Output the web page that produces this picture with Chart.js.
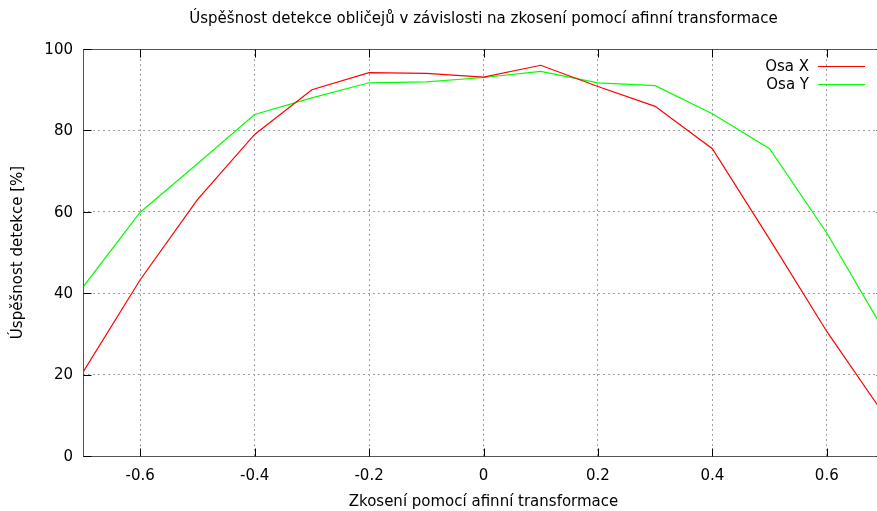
<!DOCTYPE html>
<html>
<head>
<meta charset="utf-8">
<script src="https://cdn.jsdelivr.net/npm/chart.js@4/dist/chart.umd.min.js"></script>
<style>
  html, body { margin: 0; padding: 0; overflow: hidden; background: #fff; }
  canvas { display: block; }
</style>
</head>
<body>
<canvas id="c" width="891" height="511"></canvas>
<script>
// skew values (x axis)
const skew = [-0.7, -0.6, -0.5, -0.4, -0.3, -0.2, -0.1, 0, 0.1, 0.2, 0.3, 0.4, 0.5, 0.6, 0.7];
// detection rate in % for skew along X and along Y
const osaX = [20.6, 43.3, 63, 79, 90, 94.2, 94, 93.1, 96, 90.8, 85.9, 75.5, 53.3, 30.6, 10.2];
const osaY = [41.5, 59.9, 71.8, 83.9, 88, 91.7, 91.9, 93, 94.5, 91.7, 91, 84.1, 75.5, 54.8, 30.8];

const xTicks = [-0.6, -0.4, -0.2, 0, 0.2, 0.4, 0.6];
const yTicks = [0, 20, 40, 60, 80, 100];

Chart.defaults.font.family = 'DejaVu Sans';
Chart.defaults.font.size = 15;
Chart.defaults.color = '#000';

const toPoints = (ys) => skew.map((x, i) => ({ x: x, y: ys[i] }));

// gnuplot-like frame, inward tics and key
const gnuplotFrame = {
  id: 'gnuplotFrame',
  afterDraw(chart) {
    const ctx = chart.ctx;
    const a = chart.chartArea;
    const xs = chart.scales.x, ys = chart.scales.y;
    const L = Math.round(a.left) + 0.5, R = Math.round(a.right) + 0.5;
    const T = Math.round(a.top) + 0.5, B = Math.round(a.bottom) + 0.5;
    ctx.save();
    ctx.setLineDash([]);
    ctx.lineWidth = 1;
    ctx.strokeStyle = '#555';
    ctx.strokeRect(L, T, R - L, B - T);

    ctx.strokeStyle = '#000';
    ctx.beginPath();
    xTicks.forEach(v => {
      const px = Math.round(xs.getPixelForValue(v)) + 0.5;
      ctx.moveTo(px, B); ctx.lineTo(px, B - 8);
      ctx.moveTo(px, T); ctx.lineTo(px, T + 8);
    });
    yTicks.forEach(v => {
      const py = Math.round(ys.getPixelForValue(v)) + 0.5;
      ctx.moveTo(L, py); ctx.lineTo(L + 8, py);
      ctx.moveTo(R, py); ctx.lineTo(R - 8, py);
    });
    ctx.stroke();

    // key
    ctx.font = '15px "DejaVu Sans"';
    ctx.textAlign = 'right';
    ctx.textBaseline = 'middle';
    chart.data.datasets.forEach((ds, i) => {
      const y = 66 + i * 18;
      ctx.fillStyle = '#000';
      ctx.fillText(ds.label, 809, y + 1);
      ctx.strokeStyle = ds.borderColor;
      ctx.beginPath();
      ctx.moveTo(818, y + 0.5);
      ctx.lineTo(865, y + 0.5);
      ctx.stroke();
    });
    ctx.restore();
  }
};

new Chart(document.getElementById('c'), {
  type: 'line',
  data: {
    datasets: [
      {
        label: 'Osa X',
        data: toPoints(osaX),
        borderColor: '#ff0000',
        borderWidth: 1.2,
        pointRadius: 0,
        tension: 0,
        fill: false
      },
      {
        label: 'Osa Y',
        data: toPoints(osaY),
        borderColor: '#00ff00',
        borderWidth: 1.2,
        pointRadius: 0,
        tension: 0,
        fill: false
      }
    ]
  },
  options: {
    responsive: false,
    animation: false,
    layout: { padding: { top: 0, right: 7, left: 0, bottom: 0 } },
    scales: {
      x: {
        type: 'linear',
        min: -0.7,
        max: 0.7,
        afterBuildTicks: (s) => { s.ticks = xTicks.map(v => ({ value: v })); },
        afterFit: (s) => { s.height = 55; },
        ticks: {
          padding: 11,
          maxRotation: 0,
          callback: (v) => (v === 0 ? '0' : v.toFixed(1))
        },
        grid: { color: '#a0a0a0', drawTicks: false },
        border: { display: false, dash: [2, 3] },
        title: {
          display: true,
          text: 'Zkosení pomocí afinní transformace',
          padding: { top: 0, bottom: 0 }
        }
      },
      y: {
        min: 0,
        max: 100,
        afterBuildTicks: (s) => { s.ticks = yTicks.map(v => ({ value: v })); },
        afterFit: (s) => { s.width = 83; },
        ticks: { padding: 10, labelOffset: 1 },
        grid: { color: '#a0a0a0', drawTicks: false },
        border: { display: false, dash: [2, 3] },
        title: {
          display: true,
          text: 'Úspěšnost detekce [%]',
          padding: { top: 9, bottom: 0 }
        }
      }
    },
    plugins: {
      legend: { display: false },
      tooltip: { enabled: false },
      title: {
        display: true,
        fullSize: false,
        text: 'Úspěšnost detekce obličejů v závislosti na zkosení pomocí afinní transformace',
        font: { size: 15, weight: 'normal' },
        padding: { top: 10, bottom: 21 }
      }
    }
  },
  plugins: [gnuplotFrame]
});
</script>
</body>
</html>
